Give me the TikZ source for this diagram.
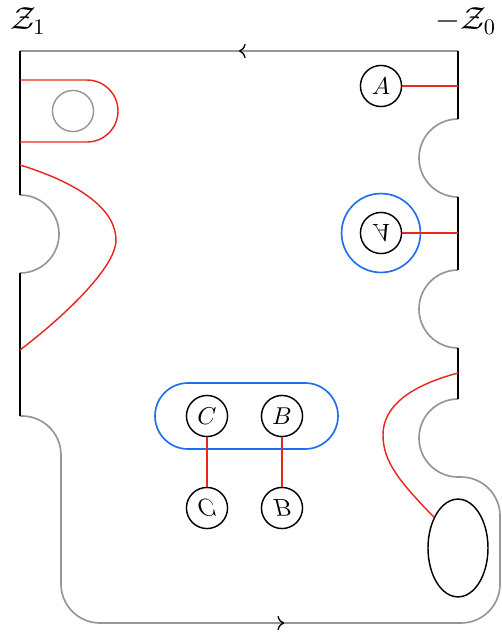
\documentclass[tikz,border=0pt]{standalone}
\usetikzlibrary{%
	arrows.meta,%
	shapes.geometric,%
	decorations.markings,%
}
\definecolor{cred}{RGB}{232, 40, 30}
\definecolor{cblue}{RGB}{30, 110, 240}
\definecolor{cgray}{RGB}{150, 150, 150}
\tikzset{
	>={To[length=3pt,width=6.5pt]},%
	bnd/.style={cgray, line width=.75pt},%
	cut/.style={black, line width=.75pt},%
	strand/.style={cred, line width=.65pt},%
	ring/.style={cblue, line width=.75pt},%
	pt/.style={%
			draw,%
			circle,%
			line width=.65pt,%
			inner sep=0,%
			font=\fontsize{11}{13}\selectfont,%
			minimum size=18.5pt},%
	midarrow/.style={%
			postaction={decorate},%
			decoration={markings, mark=at position #1 with {\arrow[black, line width=.6pt]{>}}}},%
}
\newcommand{\flipped}[1]{\scalebox{1}[-1]{$#1$}}

\begin{document}
\begin{tikzpicture}[x=.45pt, y=-.45pt]
	\useasboundingbox (0,0) rectangle (501,636);

	\node (zone) at (28,21) {\Large$\mathcal{Z}_1$};
	\node (zzero) at (466,21) {\Large$-\mathcal{Z}_0$};

	\coordinate (ua) at (20,80);
	\coordinate (ub) at (20,142);
	\coordinate (la) at (20,165);
	\coordinate (lb) at (20,350);
	\coordinate (ra) at (458,86);
	\coordinate (rb) at (458,233);
	\coordinate (rc) at (458,373);

	\draw[bnd, midarrow=.5] (458,51) -- (20,51);
	\draw[bnd] (20,195) arc(-90:90:39);
	\draw[bnd] (20,416) -- (22,416) arc(-90:0:39) -- (61,584) arc(180:90:39)
		-- (461,623) arc(90:0:39) -- (500,516) arc(0:-90:39) -- (458,477) arc(90:270:39);
	\draw[bnd, midarrow=.51] (100,623) -- (461,623);
	\draw[bnd] (458,348) arc(90:270:39);
	\draw[bnd] (458,197) arc(90:270:39);

	\draw[cut] (20,51) -- (20,195);
	\draw[cut] (20,273) -- (20,416);
	\draw[cut] (458,51) -- (458,119);
	\draw[cut] (458,197) -- (458,270);
	\draw[cut] (458,348) -- (458,399);

	\node[draw, cgray, circle, line width=.65pt, inner sep=0, minimum size=18.5pt] (hole) at (73,111) {};
	\draw[strand] (ua) -- (87,80) arc(-90:90:31) -- (ub);
	\draw[strand] (la) .. controls (85,185) and (116,212) .. (116,240)
		.. controls (116,268) and (62,318) .. (lb);

	\node[pt] (A) at (381,86) {$A$};
	\node[pt] (Aflip) at (381,233) {\flipped{A}};
	\node[ring, draw, circle, inner sep=0, minimum size=35.5pt] (Aring) at (381,233) {};
	\draw[strand] (A) -- (ra);
	\draw[strand] (Aflip) -- (rb);

	\draw[ring, rounded corners=14.85pt] (155,383) rectangle (338,449);
	\node[pt] (C) at (207,416) {$C$};
	\node[pt] (B) at (282,416) {$B$};
	\node[pt] (Cflip) at (207,508) {\flipped{C}};
	\node[pt] (Bflip) at (282,508) {\flipped{B}};
	\draw[strand] (C) -- (Cflip);
	\draw[strand] (B) -- (Bflip);

	\node[draw, ellipse, line width=.65pt, inner sep=0, minimum width=27pt, minimum height=44pt] (ell) at (458,548) {};
	\draw[strand] (ell.128) .. controls (400,482) and (383,462) .. (383,435)
		.. controls (383,398) and (428,381) .. (rc);
\end{tikzpicture}
\end{document}
